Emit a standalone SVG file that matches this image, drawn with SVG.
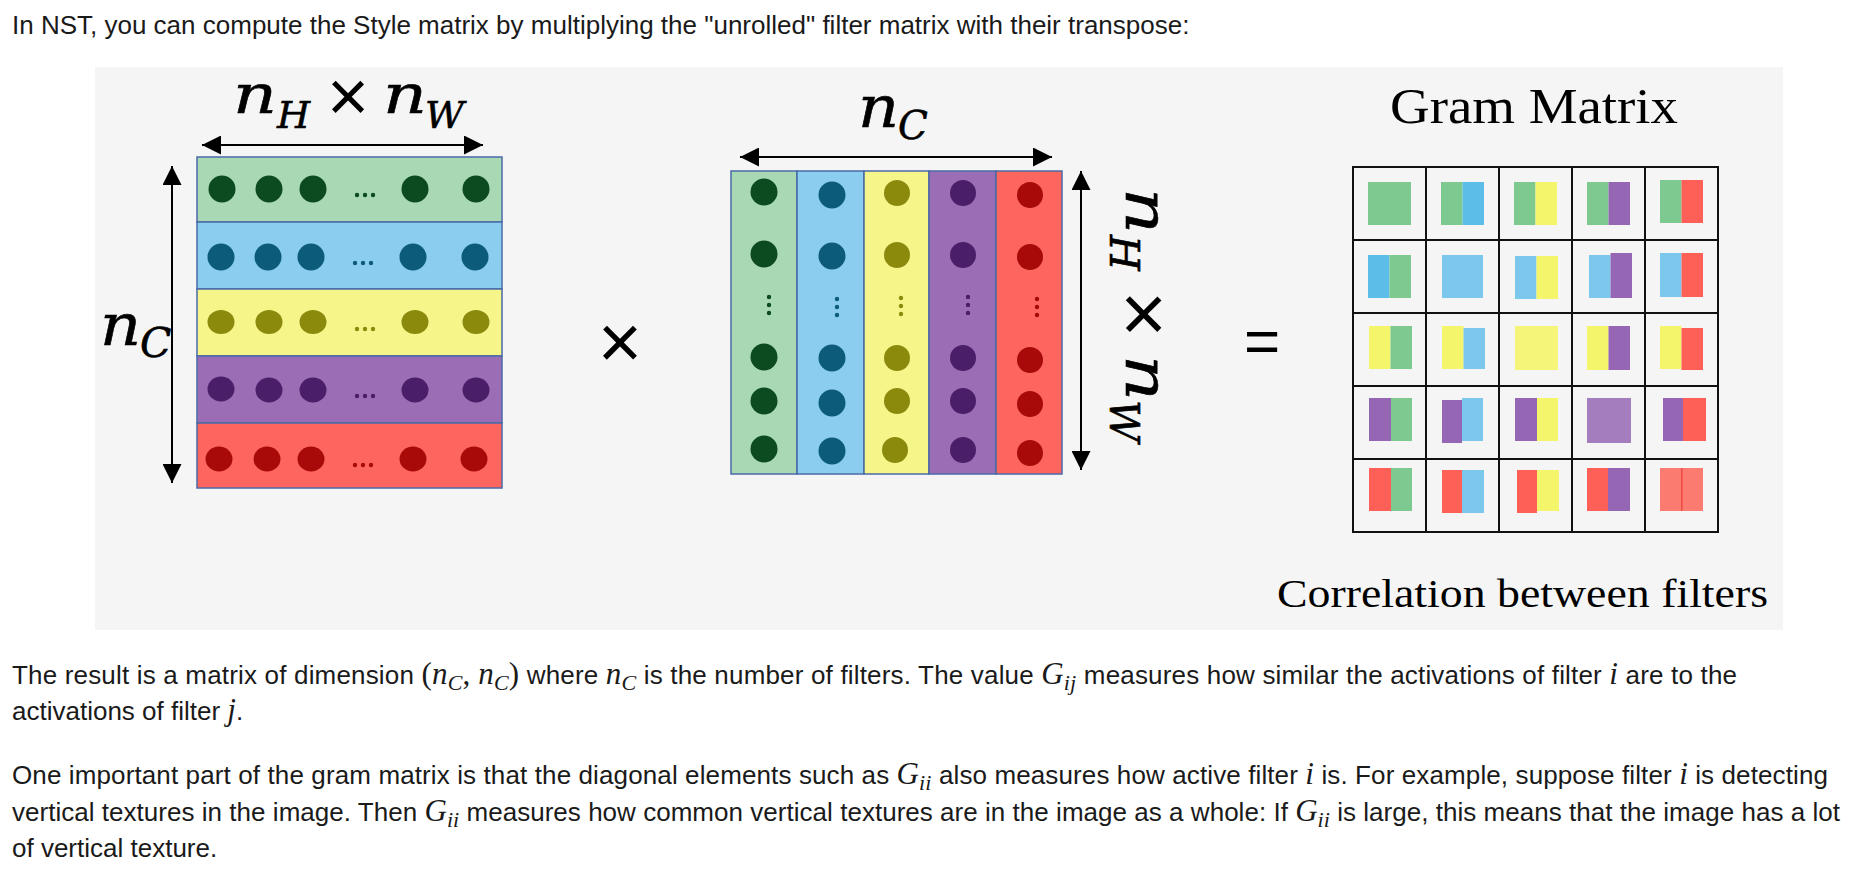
<svg xmlns="http://www.w3.org/2000/svg" width="1872" height="876" viewBox="0 0 1872 876">
<defs>
<style>
.bt{font-family:"Liberation Sans",Arial,sans-serif;font-size:26px;fill:#1a1a1a}
.m{font-family:"Liberation Serif",serif;font-style:italic;font-size:31px}
.ms{font-family:"Liberation Serif",serif;font-style:italic;font-size:22px}
.mu{font-family:"Liberation Serif",serif;font-size:31px}
.lab{font-family:"DejaVu Serif",serif;font-style:italic;fill:#000;stroke:#000;stroke-width:0.6}
.op{font-family:"Liberation Sans",Arial,sans-serif;fill:#000;text-anchor:middle}
.ttl{font-family:"Liberation Serif",serif;fill:#000}
.row{stroke:#4a6aa8;stroke-width:1.5}
.arr{stroke:#000;stroke-width:2;fill:none;marker-start:url(#ah);marker-end:url(#ah)}
.grid{stroke:#111;stroke-width:2;fill:none}
.dg{fill:#0c4a1f}.db{fill:#0c5b7b}.dy{fill:#8b8a0d}.dp{fill:#4a1e68}.dr{fill:#a80a0a}
.fg{fill:#a8d8b4}.fb{fill:#8acdee}.fy{fill:#f5f58a}.fp{fill:#9a6db5}.fr{fill:#fd665e}
.cg{fill:#7dc98f}.cb{fill:#7cc8ec}.cb2{fill:#5cbde8}.cy{fill:#f5f56c}.cp{fill:#9566b4}.cr{fill:#fe5f57}
</style>
<marker id="ah" viewBox="0 0 19 19" refX="19" refY="9.5" markerWidth="19" markerHeight="19" markerUnits="userSpaceOnUse" orient="auto-start-reverse">
<path d="M0,0 L19,9.5 L0,19 z" fill="#000"/>
</marker>
</defs>
<rect width="1872" height="876" fill="#ffffff"/>
<text class="bt" x="12" y="34" font-size="26.3">In NST, you can compute the Style matrix by multiplying the "unrolled" filter matrix with their transpose:</text>
<rect id="panel" x="95" y="67" width="1688" height="563" fill="#f5f5f5"/>

<g id="connectors">
<line class="arr" x1="202" y1="145" x2="483" y2="145"/>
<line class="arr" x1="172" y1="166" x2="172" y2="483"/>
<line class="arr" x1="740" y1="157" x2="1052" y2="157"/>
<line class="arr" x1="1081" y1="171" x2="1081" y2="470"/>
</g>

<g id="label-top">
<text class="lab" x="233" y="113" font-size="55" textLength="44" lengthAdjust="spacingAndGlyphs">n</text>
<text class="lab" x="277" y="128" font-size="38">H</text>
<text class="op" x="348" y="121" font-size="72">×</text>
<text class="lab" x="383" y="113" font-size="55" textLength="44" lengthAdjust="spacingAndGlyphs">n</text>
<text class="lab" x="425" y="128" font-size="38">W</text>
</g>
<g id="label-left">
<text class="lab" x="100" y="345" font-size="58" textLength="41" lengthAdjust="spacingAndGlyphs">n</text>
<text class="lab" x="140" y="357" font-size="41">C</text>
</g>
<g id="label-mid">
<text class="lab" x="858" y="127" font-size="58" textLength="41" lengthAdjust="spacingAndGlyphs">n</text>
<text class="lab" x="898" y="139" font-size="39">C</text>
</g>
<g id="label-rot" transform="translate(1126,188) rotate(90)">
<text class="lab" x="0" y="0" font-size="59" textLength="46" lengthAdjust="spacingAndGlyphs">n</text>
<text class="lab" x="47" y="16" font-size="41">H</text>
<text class="op" x="126" y="9" font-size="80">×</text>
<text class="lab" x="167" y="0" font-size="59" textLength="46" lengthAdjust="spacingAndGlyphs">n</text>
<text class="lab" x="212" y="16" font-size="41">W</text>
</g>

<g id="op-times"><text class="op" x="620" y="368" font-size="76">×</text></g>
<g id="op-equals"><text class="op" x="1262" y="362" font-size="62">=</text></g>

<g id="matrix-left">
<rect class="row fg" x="197" y="157" width="305" height="65"/>
<rect class="row fb" x="197" y="222" width="305" height="67"/>
<rect class="row fy" x="197" y="289" width="305" height="67"/>
<rect class="row fp" x="197" y="356" width="305" height="67"/>
<rect class="row fr" x="197" y="423" width="305" height="65"/>
<g class="dg"><circle cx="222" cy="189" r="13.5"/><circle cx="269" cy="189" r="13.5"/><circle cx="313" cy="189" r="13.5"/><circle cx="415" cy="189" r="13.5"/><circle cx="476" cy="189" r="13.5"/><circle cx="357" cy="195" r="2.2"/><circle cx="365" cy="195" r="2.2"/><circle cx="373" cy="195" r="2.2"/></g>
<g class="db"><circle cx="221" cy="257" r="13.5"/><circle cx="268" cy="257" r="13.5"/><circle cx="311" cy="257" r="13.5"/><circle cx="413" cy="257" r="13.5"/><circle cx="475" cy="257" r="13.5"/><circle cx="355" cy="263" r="2.2"/><circle cx="363" cy="263" r="2.2"/><circle cx="371" cy="263" r="2.2"/></g>
<g class="dy"><ellipse cx="221" cy="322" rx="13.5" ry="12"/><ellipse cx="269" cy="322" rx="13.5" ry="12"/><ellipse cx="313" cy="322" rx="13.5" ry="12"/><ellipse cx="415" cy="322" rx="13.5" ry="12"/><ellipse cx="476" cy="322" rx="13.5" ry="12"/><circle cx="357" cy="329" r="2.2"/><circle cx="365" cy="329" r="2.2"/><circle cx="373" cy="329" r="2.2"/></g>
<g class="dp"><ellipse cx="221" cy="389" rx="13.5" ry="12.5"/><ellipse cx="269" cy="390" rx="13.5" ry="12.5"/><ellipse cx="313" cy="390" rx="13.5" ry="12.5"/><ellipse cx="415" cy="390" rx="13.5" ry="12.5"/><ellipse cx="476" cy="390" rx="13.5" ry="12.5"/><circle cx="357" cy="396" r="2.2"/><circle cx="365" cy="396" r="2.2"/><circle cx="373" cy="396" r="2.2"/></g>
<g class="dr"><ellipse cx="219" cy="459" rx="13.5" ry="12.5"/><ellipse cx="267" cy="459" rx="13.5" ry="12.5"/><ellipse cx="311" cy="459" rx="13.5" ry="12.5"/><ellipse cx="413" cy="459" rx="13.5" ry="12.5"/><ellipse cx="474" cy="459" rx="13.5" ry="12.5"/><circle cx="355" cy="465" r="2.2"/><circle cx="363" cy="465" r="2.2"/><circle cx="371" cy="465" r="2.2"/></g>
</g>

<g id="matrix-mid">
<rect class="row fg" x="731" y="171" width="66" height="303"/>
<rect class="row fb" x="797" y="171" width="67" height="303"/>
<rect class="row fy" x="864" y="171" width="65" height="303"/>
<rect class="row fp" x="929" y="171" width="67" height="303"/>
<rect class="row fr" x="996" y="171" width="66" height="303"/>
<g class="dg"><circle cx="764" cy="192" r="13.5"/><circle cx="764" cy="254" r="13.5"/><circle cx="764" cy="357" r="13.5"/><circle cx="764" cy="401" r="13.5"/><circle cx="764" cy="449" r="13.5"/><circle cx="769" cy="297" r="2.2"/><circle cx="769" cy="305" r="2.2"/><circle cx="769" cy="313" r="2.2"/></g>
<g class="db"><circle cx="832" cy="195" r="13.5"/><circle cx="832" cy="256" r="13.5"/><circle cx="832" cy="358" r="13.5"/><circle cx="832" cy="403" r="13.5"/><circle cx="832" cy="451" r="13.5"/><circle cx="837" cy="299" r="2.2"/><circle cx="837" cy="307" r="2.2"/><circle cx="837" cy="315" r="2.2"/></g>
<g class="dy"><circle cx="897" cy="193" r="13"/><circle cx="897" cy="255" r="13"/><circle cx="897" cy="358" r="13"/><circle cx="897" cy="401" r="13"/><circle cx="895" cy="450" r="13"/><circle cx="901" cy="298" r="2.2"/><circle cx="901" cy="306" r="2.2"/><circle cx="901" cy="314" r="2.2"/></g>
<g class="dp"><circle cx="963" cy="193" r="13"/><circle cx="963" cy="255" r="13"/><circle cx="963" cy="358" r="13"/><circle cx="963" cy="401" r="13"/><circle cx="963" cy="450" r="13"/><circle cx="968" cy="297" r="2.2"/><circle cx="968" cy="305" r="2.2"/><circle cx="968" cy="313" r="2.2"/></g>
<g class="dr"><circle cx="1030" cy="195" r="13"/><circle cx="1030" cy="257" r="13"/><circle cx="1030" cy="360" r="13"/><circle cx="1030" cy="404" r="13"/><circle cx="1030" cy="453" r="13"/><circle cx="1037" cy="299" r="2.2"/><circle cx="1037" cy="307" r="2.2"/><circle cx="1037" cy="315" r="2.2"/></g>
</g>

<g id="gram-matrix">
<text class="ttl" x="1390" y="123" font-size="50" textLength="288" lengthAdjust="spacingAndGlyphs">Gram Matrix</text>
<rect class="cg" x="1368" y="182" width="43" height="43"/>
<rect class="cg" x="1441" y="182" width="21.5" height="43"/><rect class="cb2" x="1462.5" y="182" width="21.5" height="43"/>
<rect class="cg" x="1514" y="182" width="21.5" height="43"/><rect class="cy" x="1535.5" y="182" width="21.5" height="43"/>
<rect class="cg" x="1587" y="182" width="21.5" height="43"/><rect class="cp" x="1608.5" y="182" width="21.5" height="43"/>
<rect class="cg" x="1660" y="180" width="21.5" height="43"/><rect class="cr" x="1681.5" y="180" width="21.5" height="43"/>

<rect class="cb2" x="1368" y="255" width="21.5" height="43"/><rect class="cg" x="1389.5" y="255" width="21.5" height="43"/>
<rect class="cb" x="1442" y="255" width="41" height="43"/>
<rect class="cb" x="1515" y="256" width="21.5" height="43"/><rect class="cy" x="1536.5" y="256" width="21.5" height="43"/>
<rect class="cb" x="1589" y="255" width="21.5" height="43"/><rect class="cp" x="1610.5" y="253" width="21.5" height="45"/>
<rect class="cb" x="1660" y="253" width="21.5" height="44"/><rect class="cr" x="1681.5" y="253" width="21.5" height="44"/>

<rect class="cy" x="1369" y="326" width="21.5" height="43"/><rect class="cg" x="1390.5" y="326" width="21.5" height="43"/>
<rect class="cy" x="1442" y="326" width="21.5" height="43"/><rect class="cb" x="1463.5" y="328" width="21.5" height="41"/>
<rect fill="#f5f57a" x="1515" y="326" width="43" height="44"/>
<rect class="cy" x="1587" y="326" width="21.5" height="44"/><rect class="cp" x="1608.5" y="326" width="21.5" height="44"/>
<rect class="cy" x="1660" y="326" width="21.5" height="43"/><rect class="cr" x="1681.5" y="328" width="21.5" height="42"/>

<rect class="cp" x="1369" y="398" width="22" height="43"/><rect class="cg" x="1391" y="398" width="21" height="43"/>
<rect class="cp" x="1442" y="400" width="20" height="43"/><rect class="cb" x="1462" y="398" width="21" height="43"/>
<rect class="cp" x="1515" y="398" width="22" height="43"/><rect class="cy" x="1537" y="398" width="21" height="43"/>
<rect fill="#a47dbe" x="1587" y="398" width="44" height="45"/>
<rect class="cp" x="1663" y="398" width="20" height="43"/><rect class="cr" x="1683" y="398" width="23" height="43"/>

<rect class="cr" x="1369" y="468" width="22" height="43"/><rect class="cg" x="1391" y="468" width="21" height="43"/>
<rect class="cr" x="1442" y="470" width="20" height="43"/><rect class="cb" x="1462" y="470" width="22" height="43"/>
<rect class="cr" x="1517" y="470" width="20" height="43"/><rect class="cy" x="1537" y="470" width="22" height="41"/>
<rect class="cr" x="1587" y="468" width="21" height="43"/><rect class="cp" x="1608" y="468" width="22" height="43"/>
<rect fill="#fb7b70" x="1660" y="468" width="43" height="43"/><rect fill="#f04a45" x="1681" y="468" width="1.5" height="43"/>

<path class="grid" d="M1353,167 H1718 V532 H1353 Z M1426,167 V532 M1499,167 V532 M1572,167 V532 M1645,167 V532 M1353,240 H1718 M1353,313 H1718 M1353,386 H1718 M1353,459 H1718"/>
<text class="ttl" x="1277" y="607" font-size="40" textLength="491" lengthAdjust="spacingAndGlyphs">Correlation between filters</text>
</g>

<text class="bt" x="12" y="684" textLength="1725" lengthAdjust="spacing">The result is a matrix of dimension <tspan class="mu">(</tspan><tspan class="m">n</tspan><tspan class="ms" dy="6">C</tspan><tspan class="mu" dy="-6">, </tspan><tspan class="m">n</tspan><tspan class="ms" dy="6">C</tspan><tspan class="mu" dy="-6">)</tspan> where <tspan class="m">n</tspan><tspan class="ms" dy="6">C</tspan><tspan dy="-6"> is the number of filters. The value </tspan><tspan class="m">G</tspan><tspan class="ms" dy="6">ij</tspan><tspan dy="-6"> measures how similar the activations of filter </tspan><tspan class="m">i</tspan> are to the</text>
<text class="bt" x="12" y="720">activations of filter <tspan class="m">j</tspan>.</text>
<text class="bt" x="12" y="784" textLength="1816" lengthAdjust="spacing">One important part of the gram matrix is that the diagonal elements such as <tspan class="m">G</tspan><tspan class="ms" dy="6">ii</tspan><tspan dy="-6"> also measures how active filter </tspan><tspan class="m">i</tspan> is. For example, suppose filter <tspan class="m">i</tspan> is detecting</text>
<text class="bt" x="12" y="821" textLength="1828" lengthAdjust="spacing">vertical textures in the image. Then <tspan class="m">G</tspan><tspan class="ms" dy="6">ii</tspan><tspan dy="-6"> measures how common vertical textures are in the image as a whole: If </tspan><tspan class="m">G</tspan><tspan class="ms" dy="6">ii</tspan><tspan dy="-6"> is large, this means that the image has a lot</tspan></text>
<text class="bt" x="12" y="857">of vertical texture.</text>
</svg>
